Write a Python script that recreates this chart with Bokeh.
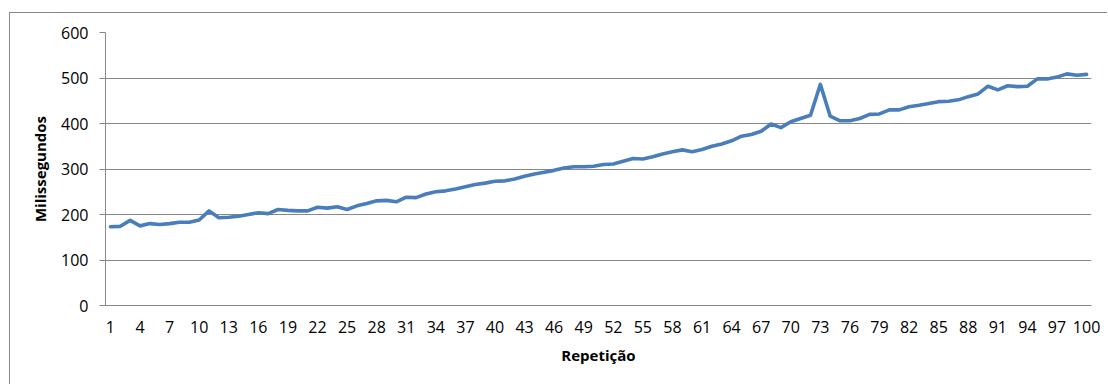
from bokeh.plotting import figure
from bokeh.models import FixedTicker, Range1d
from bokeh.embed import file_html
from bokeh.resources import INLINE

# Data
repeticao = list(range(1, 101))
milissegundos = [
    173, 174, 187, 175, 180, 178, 180, 183, 183, 188,
    208, 193, 194, 196, 200, 204, 202, 211, 209, 208,
    208, 216, 214, 217, 211, 219, 224, 230, 231, 228,
    238, 237, 245, 250, 252, 256, 261, 266, 269, 273,
    274, 278, 284, 289, 293, 297, 302, 305, 305, 306,
    310, 311, 317, 323, 322, 327, 333, 338, 342, 338,
    343, 350, 355, 362, 372, 376, 383, 399, 391, 404,
    411, 418, 486, 416, 406, 406, 411, 420, 421, 430,
    430, 437, 440, 444, 448, 449, 452, 459, 465, 482,
    474, 483, 481, 482, 498, 498, 502, 509, 506, 508,
]
x_ticks = [1, 4, 7, 10, 13, 16, 19, 22, 25, 28, 31, 34, 37, 40, 43, 46, 49,
           52, 55, 58, 61, 64, 67, 70, 73, 76, 79, 82, 85, 88, 91, 94, 97, 100]
y_ticks = [0, 100, 200, 300, 400, 500, 600]

GRID = "#878787"
FONT = "Open Sans"

p = figure(
    width=1098, height=372,
    output_backend="svg", toolbar_location=None,
    x_range=Range1d(0.5, 100.5), y_range=Range1d(0, 600),
    min_border_left=95, min_border_right=17, min_border_top=19, min_border_bottom=80,
    styles={"margin-left": "9px", "margin-top": "12px",
            "border-left": "1px solid #888888", "border-top": "1px solid #888888"},
)
p.outline_line_color = None
p.background_fill_color = "white"
p.border_fill_color = "white"

p.line(repeticao, milissegundos, line_color="#4A7EBB", line_width=3.6,
       line_join="round", line_cap="round")

# X axis
p.xaxis.ticker = FixedTicker(ticks=x_ticks)
p.xaxis.axis_label = "Repetição"
p.xaxis.major_tick_line_color = None
p.xaxis.minor_tick_line_color = None
p.xaxis.major_tick_out = 0
p.xaxis.major_label_standoff = 15
p.xaxis.axis_line_color = GRID
p.xaxis.major_label_text_font = FONT
p.xaxis.major_label_text_font_size = "16px"
p.xaxis.major_label_text_color = "#000000"
p.xaxis.axis_label_text_font = FONT
p.xaxis.axis_label_text_font_style = "bold"
p.xaxis.axis_label_text_font_size = "15px"
p.xaxis.axis_label_text_color = "#000000"
p.xaxis.axis_label_standoff = 9

# Y axis
p.yaxis.ticker = FixedTicker(ticks=y_ticks)
p.yaxis.axis_label = "Milissegundos"
p.yaxis.major_tick_out = 6
p.yaxis.major_tick_in = 0
p.yaxis.major_tick_line_color = GRID
p.yaxis.minor_tick_line_color = None
p.yaxis.axis_line_color = GRID
p.yaxis.major_label_standoff = 11
p.yaxis.major_label_text_font = FONT
p.yaxis.major_label_text_font_size = "16px"
p.yaxis.major_label_text_color = "#000000"
p.yaxis.axis_label_text_font = FONT
p.yaxis.axis_label_text_font_style = "bold"
p.yaxis.axis_label_text_font_size = "15px"
p.yaxis.axis_label_text_color = "#000000"
p.yaxis.axis_label_standoff = 8

# Grid
p.xgrid.grid_line_color = None
p.ygrid.ticker = FixedTicker(ticks=y_ticks)
p.ygrid.grid_line_color = GRID
p.ygrid.grid_line_width = 1

open("out.html", "w").write(file_html(p, INLINE))
